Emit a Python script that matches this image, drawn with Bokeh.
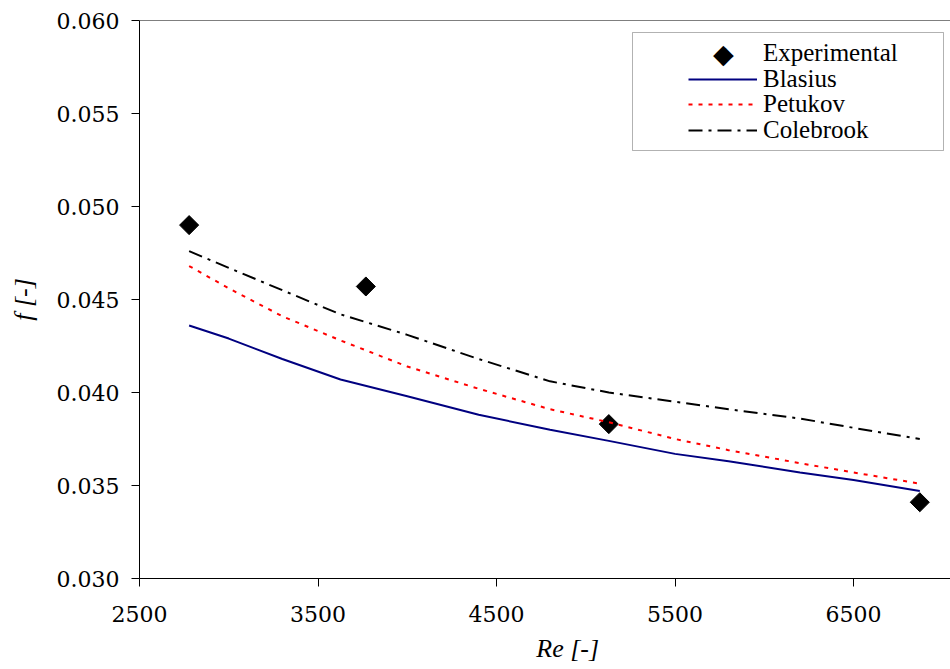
import math
from bokeh.plotting import figure
from bokeh.models import (FixedTicker, NumeralTickFormatter, Legend, LegendItem,
                          Label, Span, BoxAnnotation, Range1d)
from bokeh.embed import file_html
from bokeh.resources import INLINE

# ---- data ----
re_exp = [2778, 3768, 5129, 6871]
f_exp = [0.0490, 0.0457, 0.0383, 0.0341]

re_model = [2778, 3000, 3300, 3626, 4000, 4400, 4800, 5129, 5500, 5800, 6200, 6500, 6871]
f_blasius = [0.0436, 0.0429, 0.0418, 0.0407, 0.0398, 0.0388, 0.0380, 0.0374, 0.0367, 0.0363, 0.0357, 0.0353, 0.0347]
f_petukov = [0.0468, 0.0456, 0.0441, 0.0428, 0.0414, 0.0402, 0.0391, 0.0384, 0.0375, 0.0369, 0.0362, 0.0357, 0.0351]
f_colebrook = [0.0476, 0.0467, 0.0455, 0.0442, 0.0431, 0.0418, 0.0406, 0.0400, 0.0395, 0.0391, 0.0386, 0.0381, 0.0375]

x_ticks = [2500, 3500, 4500, 5500, 6500, 7500]
y_ticks = [0.030, 0.035, 0.040, 0.045, 0.050, 0.055, 0.060]
series_names = ["Experimental", "Blasius", "Petukov", "Colebrook"]
x_title = "\u00a0" * 7 + "Re [-]"
y_title = "f [-]"

FONT = "Liberation Serif"
TICK_FONT = "DejaVu Serif"
X0, X1 = 2500, 7043
Y0, Y1 = 0.030, 0.060
FW, FH = 811, 558

p = figure(width=950, height=669, frame_width=FW, frame_height=FH,
           x_range=Range1d(X0, X1), y_range=Range1d(Y0, Y1),
           output_backend="svg", toolbar_location=None,
           min_border_left=139, min_border_right=0, min_border_top=20, min_border_bottom=91)
p.outline_line_color = None
p.xgrid.visible = False
p.ygrid.visible = False
p.background_fill_color = "white"
p.border_fill_color = "white"

for ax in (p.xaxis[0], p.yaxis[0]):
    ax.axis_line_color = "black"
    ax.axis_line_width = 1
    ax.major_tick_line_color = "black"
    ax.major_tick_in = 0
    ax.major_tick_out = 8
    ax.minor_tick_line_color = None
    ax.major_label_text_font = TICK_FONT
    ax.major_label_text_font_style = "normal"
    ax.major_label_text_font_size = "22px"
    ax.major_label_text_color = "black"
    ax.axis_label_text_font = FONT
    ax.axis_label_text_font_style = "italic"
    ax.axis_label_text_font_size = "26px"
    ax.axis_label_text_color = "black"

p.xaxis.ticker = FixedTicker(ticks=x_ticks)
p.yaxis.ticker = FixedTicker(ticks=y_ticks)
p.yaxis.formatter = NumeralTickFormatter(format="0.000")
p.xaxis.major_label_standoff = 19
p.yaxis.major_label_standoff = 12
p.xaxis.axis_label = x_title
p.yaxis.axis_label = y_title
p.xaxis.axis_label_standoff = 9
p.yaxis.axis_label_standoff = 16

p.add_layout(Span(location=Y1, dimension="width", line_color="black", line_width=1))

r_exp = p.scatter(re_exp, f_exp, marker="square", size=13.5, angle=math.pi / 4,
                  fill_color="black", line_color="black")
r_bl = p.line(re_model, f_blasius, line_color="#000080", line_width=2)
r_pe = p.line(re_model, f_petukov, line_color="#FF0000", line_width=2, line_dash="4 6")
r_co = p.line(re_model, f_colebrook, line_color="black", line_width=2, line_dash="14 6 3 6")
r_key = p.scatter(x=[], y=[], marker="square", fill_alpha=0, line_alpha=0)


def px2x(px):
    return X0 + (px - 139) / FW * (X1 - X0)


def px2y(py):
    return Y0 + (578 - py) / FH * (Y1 - Y0)


p.add_layout(BoxAnnotation(left=px2x(632), right=px2x(943), top=px2y(32), bottom=px2y(150),
                           fill_color="white", fill_alpha=1, line_color="black", line_width=1,
                           level="overlay"))

row_centers = [53, 78.7, 104.3, 130]
ROW_H = 30
for name, rend, c in zip(series_names, [r_key, r_bl, r_pe, r_co], row_centers):
    lg = Legend(items=[LegendItem(label=name, renderers=[rend])],
                location=(549, FH - (c - 20) - ROW_H / 2))
    lg.border_line_color = None
    lg.background_fill_alpha = 0
    lg.padding = 0
    lg.margin = 0
    lg.spacing = 0
    lg.glyph_width = 69
    lg.glyph_height = ROW_H
    lg.label_height = ROW_H
    lg.label_standoff = 6
    lg.label_text_font = FONT
    lg.label_text_font_size = "25px"
    lg.label_text_color = "black"
    lg.label_text_baseline = "middle"
    p.add_layout(lg)

p.add_layout(Label(x=px2x(723), y=px2y(53), text="\u25C6", text_font="DejaVu Sans",
                   text_font_size="27px", text_align="center", text_baseline="middle",
                   text_color="black", level="overlay"))

open("out.html", "w").write(file_html(p, INLINE))
